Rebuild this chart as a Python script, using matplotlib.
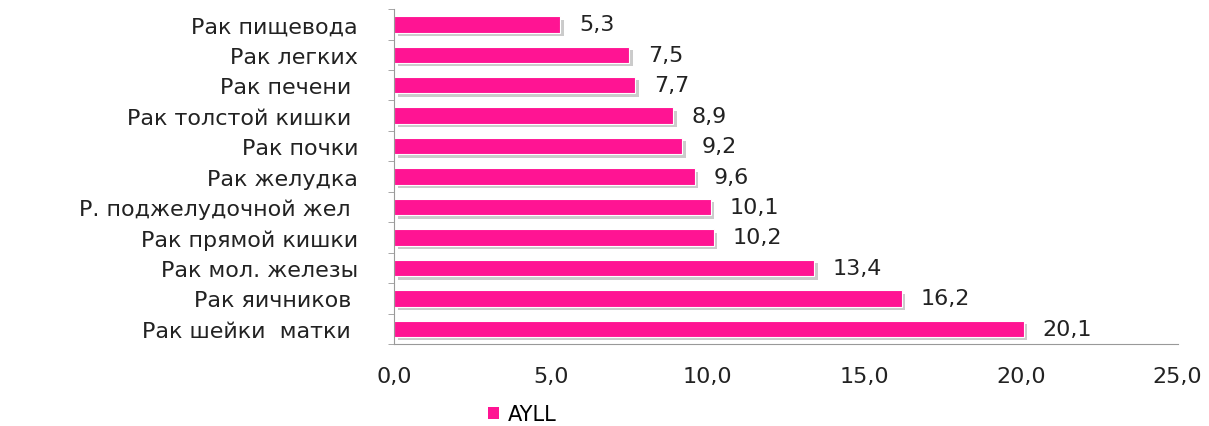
import matplotlib.pyplot as plt
import matplotlib.patheffects as pe

# Cancer sites and average years of life lost
sites = ['Рак пищевода', 'Рак легких', 'Рак печени ', 'Рак толстой кишки ',
         'Рак почки', 'Рак желудка', 'Р. поджелудочной жел ', 'Рак прямой кишки',
         'Рак мол. железы', 'Рак яичников ', 'Рак шейки  матки ']
ayll = [5.3, 7.5, 7.7, 8.9, 9.2, 9.6, 10.1, 10.2, 13.4, 16.2, 20.1]
xticks = [0, 5, 10, 15, 20, 25]

plt.rcParams['font.family'] = ['DejaVu Sans']
fs = 16

fig = plt.figure(figsize=(12.09, 4.27), dpi=100)
ax = fig.add_axes([0.326, 0.192, 0.648, 0.785])

pos = list(range(len(sites)))[::-1]
bars = ax.barh(pos, ayll, height=0.54, color='#FF1493', edgecolor='white',
               linewidth=0.8, label='AYLL')
for b in bars:
    b.set_path_effects([pe.SimplePatchShadow(offset=(2.5, -2.5), shadow_rgbFace='#999999',
                                             alpha=0.5), pe.Normal()])

for p, v in zip(pos, ayll):
    ax.text(v + 0.6, p, f'{v:.1f}'.replace('.', ','), va='center', ha='left',
            fontsize=fs, color='#222222')

ax.set_xlim(0, 25)
ax.set_ylim(-0.46, len(sites) - 0.49)
ax.set_yticks(pos)
ax.set_yticklabels(sites, fontsize=fs, color='#222222')
ax.set_xticks(xticks)
ax.set_xticklabels([f'{t:.1f}'.replace('.', ',') for t in xticks], fontsize=fs,
                   color='#222222')
ax.tick_params(axis='x', length=0, pad=16)
ax.tick_params(axis='y', length=0, pad=26)

# small category separators on the value axis
ax.set_yticks([p + 0.5 for p in range(-1, len(sites))], minor=True)
ax.tick_params(axis='y', which='minor', length=4, color='#999999')

for s in ['top', 'right']:
    ax.spines[s].set_visible(False)
ax.spines['left'].set_color('#999999')
ax.spines['bottom'].set_color('#999999')

leg = fig.legend(loc='lower center', bbox_to_anchor=(0.432, -0.04), frameon=False,
                 fontsize=15, handlelength=0.55, handleheight=0.55, handletextpad=0.4)
for h in leg.legend_handles:
    h.set_path_effects([])
    h.set_edgecolor('none')

fig.savefig('out.png', dpi=100)
